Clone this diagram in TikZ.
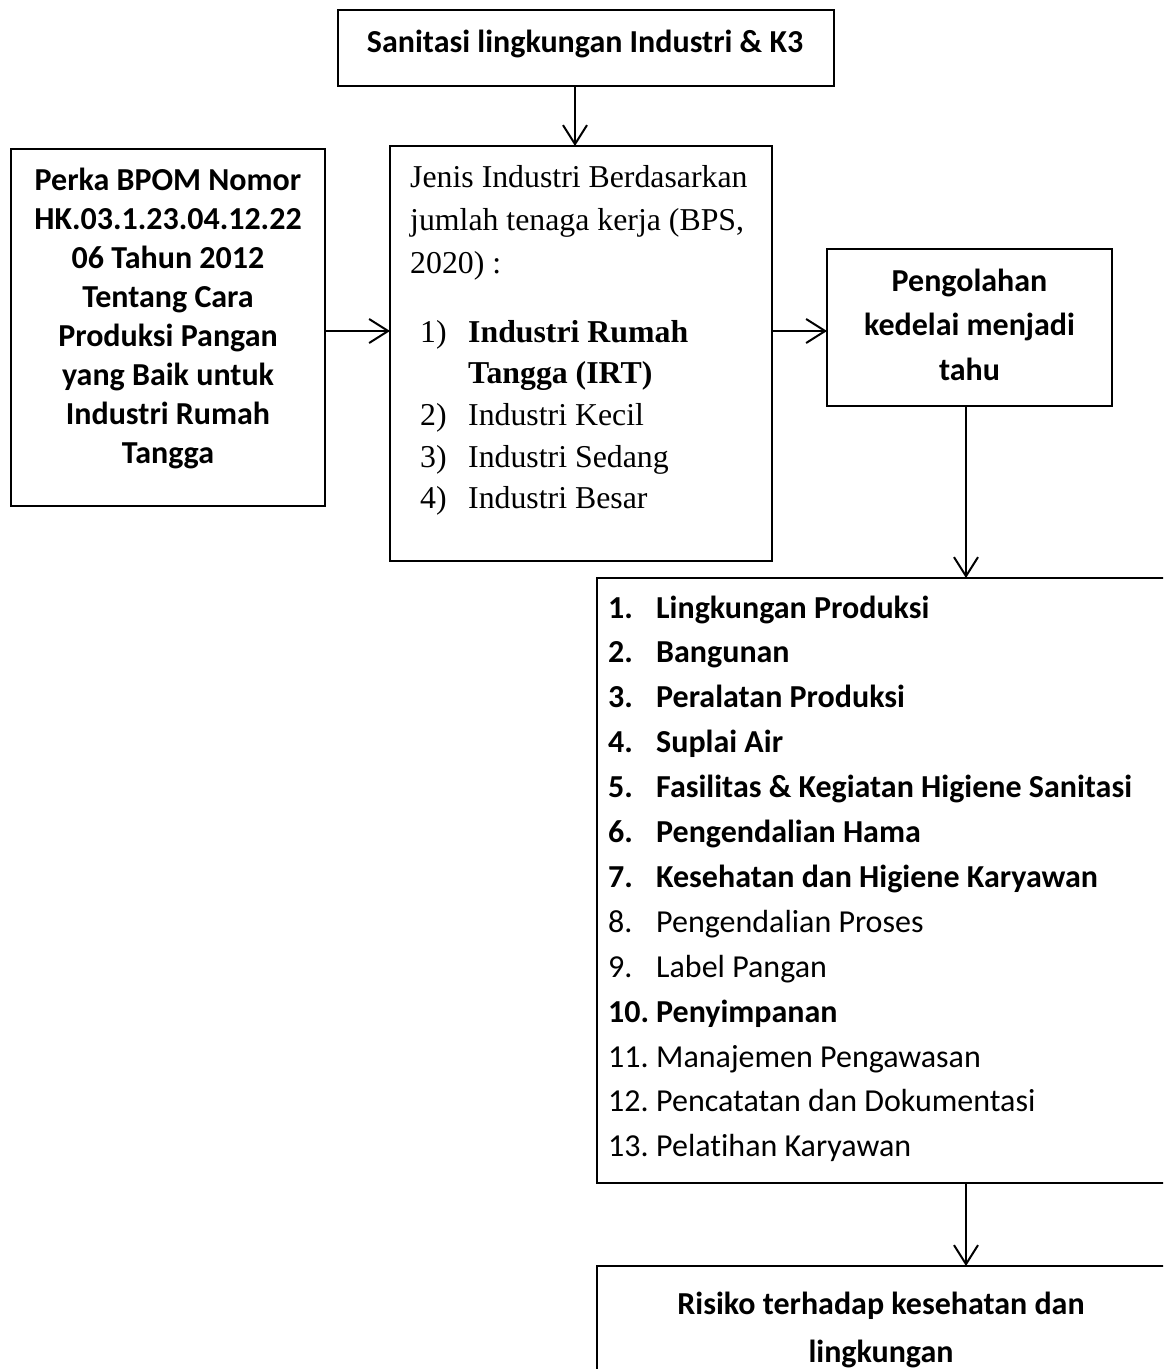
\documentclass[tikz,border=0pt]{standalone}
\usepackage{fontspec}
\setmainfont{Carlito}[Ligatures=NoCommon]
\newfontfamily\tnr{Liberation Serif}
\usetikzlibrary{arrows.meta}
\begin{document}
\begin{tikzpicture}[x=1pt,y=-1pt,
  box/.style={draw=black, line width=1.3pt, rectangle, inner sep=0pt, outer sep=0pt, anchor=north west},
  conn/.style={line width=2pt, -{Straight Barb[length=19pt,width=24pt,line width=2pt]}},
  cal/.style={font=\fontsize{32}{39}\selectfont\bfseries, inner sep=0pt},
  calr/.style={font=\fontsize{32}{39}\selectfont, inner sep=0pt},
  tms/.style={font=\fontsize{31.8}{39}\selectfont\tnr, inner sep=0pt}]
\clip (0,0) rectangle (1163,1369);
\fill[white] (0,0) rectangle (1163,1369);
% boxes
\node[box, minimum width=496pt, minimum height=76pt] (top) at (338,10) {};
\node[box, minimum width=314pt, minimum height=357pt] (left) at (11,149) {};
\node[box, minimum width=382pt, minimum height=415pt] (mid) at (390,146) {};
\node[box, minimum width=285pt, minimum height=157pt] (peng) at (827,249) {};
\node[box, minimum width=569pt, minimum height=605pt] (list) at (597,578) {};
\node[box, minimum width=569pt, minimum height=114pt] (risk) at (597,1266) {};
% texts
\node[cal, anchor=base] (toptxt) at (585,52) {Sanitasi lingkungan Industri \& K3};
\foreach \t [count=\i from 0] in {Perka BPOM Nomor, HK.03.1.23.04.12.22, 06 Tahun 2012, Tentang Cara, Produksi Pangan, yang Baik untuk, Industri Rumah, Tangga}
  \node[cal, anchor=base] (lt\i) at (168,{190+39*\i}) {\t};
\node[tms, anchor=base west] (m1) at (410,187) {Jenis Industri Berdasarkan};
\node[tms, anchor=base west] (m2) at (410,230) {jumlah tenaga kerja (BPS,};
\node[tms, anchor=base west] (m3) at (410,273) {2020) :};
\node[tms, anchor=base west] (n1) at (420,342) {1)};
\node[tms, anchor=base west, font=\fontsize{31.8}{39}\selectfont\tnr\bfseries] (t1a) at (468,342) {Industri Rumah};
\node[tms, anchor=base west, font=\fontsize{31.8}{39}\selectfont\tnr\bfseries] (t1b) at (468,383) {Tangga (IRT)};
\node[tms, anchor=base west] (n2) at (420,425) {2)};
\node[tms, anchor=base west] (t2) at (468,425) {Industri Kecil};
\node[tms, anchor=base west] (n3) at (420,467) {3)};
\node[tms, anchor=base west] (t3) at (468,467) {Industri Sedang};
\node[tms, anchor=base west] (n4) at (420,508) {4)};
\node[tms, anchor=base west] (t4) at (468,508) {Industri Besar};
\node[cal, anchor=base] (p1) at (969.5,291) {Pengolahan};
\node[cal, anchor=base] (p2) at (969.5,335.5) {kedelai menjadi};
\node[cal, anchor=base] (p3) at (969.5,380) {tahu};
\foreach \t/\s [count=\i] in {Lingkungan Produksi/cal, Bangunan/cal, Peralatan Produksi/cal, Suplai Air/cal, Fasilitas \& Kegiatan Higiene Sanitasi/cal, Pengendalian Hama/cal, Kesehatan dan Higiene Karyawan/cal, Pengendalian Proses/calr, Label Pangan/calr, Penyimpanan/cal, Manajemen Pengawasan/calr, Pencatatan dan Dokumentasi/calr, Pelatihan Karyawan/calr}
{
  \node[\s, anchor=base west] (num\i) at (608,{618+44.9*(\i-1)}) {\i.};
  \node[\s, anchor=base west] (item\i) at (656,{618+44.9*(\i-1)}) {\t};
}
\node[cal, anchor=base] (r1) at (881,1314) {Risiko terhadap kesehatan dan};
\node[cal, anchor=base] (r2) at (881,1362) {lingkungan};
% connectors
\coordinate (ya) at (0,331);
\coordinate (xa) at (575,0);
\coordinate (xb) at (966,0);
\draw[conn] (top.south -| xa) -- (mid.north -| xa);
\draw[conn] (left.east |- ya) -- (mid.west |- ya);
\draw[conn] (mid.east |- ya) -- (peng.west |- ya);
\draw[conn] (peng.south -| xb) -- (list.north -| xb);
\draw[conn] (list.south -| xb) -- (risk.north -| xb);
\end{tikzpicture}
\end{document}
